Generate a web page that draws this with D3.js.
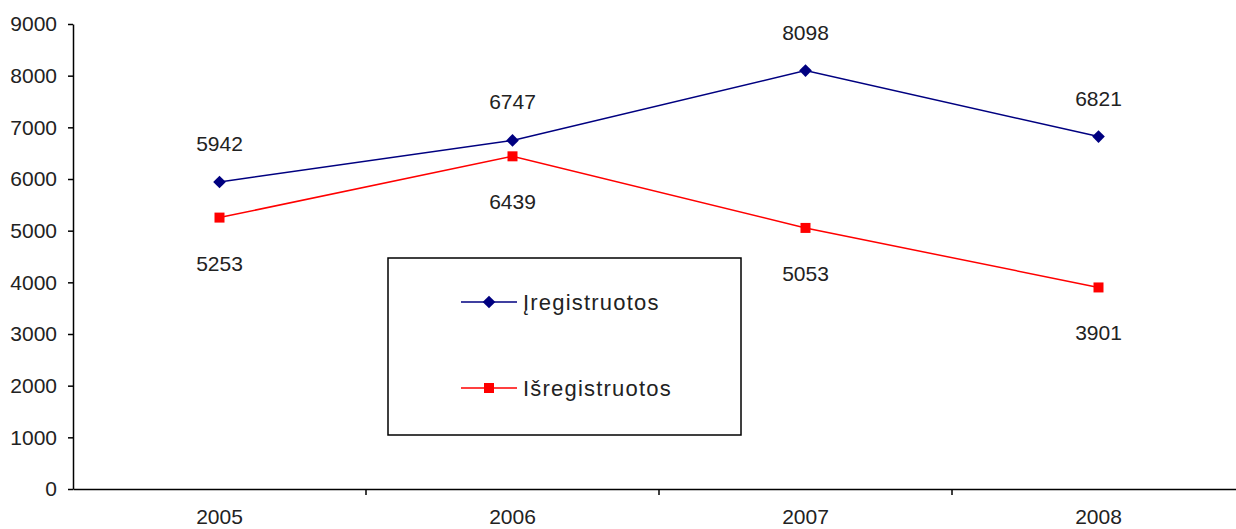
<!DOCTYPE html>
<html>
<head>
<meta charset="utf-8">
<script src="https://cdn.jsdelivr.net/npm/d3@7"></script>
<style>
  body { margin: 0; background: #fff; }
  svg text { font-family: "Liberation Sans", Arial, sans-serif; fill: #222; }
  .axis path, .axis line { stroke: #000; stroke-width: 1.5; }
  .axis text { font-size: 21px; }
</style>
</head>
<body>
<div id="chart"></div>
<script>
const years = ["2005", "2006", "2007", "2008"];
const registered = [5942, 6747, 8098, 6821];
const deregistered = [5253, 6439, 5053, 3901];
const yTicks = [0, 1000, 2000, 3000, 4000, 5000, 6000, 7000, 8000, 9000];
const seriesNames = ["Įregistruotos", "Išregistruotos"];

let w = 1236;
let h = 529;
let marginLeft = 73;
let marginTop = 24;
let marginBottom = 40;

let x = d3.scaleBand().domain(years).range([marginLeft, marginLeft + 4 * 293]);
let y = d3.scaleLinear().domain([0, 9000]).range([h - marginBottom, marginTop]);

let svg = d3.select("#chart").append("svg").attr("width", w).attr("height", h);

svg
  .append("g")
  .attr("class", "axis")
  .attr("transform", `translate(${marginLeft},0)`)
  .call(
    d3.axisLeft(y).tickValues(yTicks).tickFormat(d3.format("d")).tickSize(5).tickPadding(11).tickSizeOuter(0)
  );

let xAxis = svg
  .append("g")
  .attr("class", "axis")
  .attr("transform", `translate(0,${y(0)})`)
  .call(d3.axisBottom(x).tickSize(0).tickSizeOuter(0).tickPadding(20));

// ticks sit between categories
xAxis
  .selectAll(".sep")
  .data(years.slice(1))
  .enter()
  .append("line")
  .attr("x1", (d) => x(d))
  .attr("x2", (d) => x(d))
  .attr("y1", 0)
  .attr("y2", 6)
  .attr("stroke", "#000")
  .attr("stroke-width", 1.5);

// Excel style diamond: a square turned 45 degrees
const diamond = {
  draw(ctx, size) {
    let r = Math.sqrt(size / 2);
    ctx.moveTo(0, -r);
    ctx.lineTo(r, 0);
    ctx.lineTo(0, r);
    ctx.lineTo(-r, 0);
    ctx.closePath();
  },
};

const series = [
  { name: seriesNames[0], values: registered, color: "#000080", symbol: diamond, size: 80, dy: -31 },
  { name: seriesNames[1], values: deregistered, color: "#ff0000", symbol: d3.symbolSquare, size: 100, dy: 53 },
];

let cx = (i) => x(years[i]) + x.bandwidth() / 2;

series.forEach(function (s) {
  let line = d3
    .line()
    .x((d, i) => cx(i))
    .y((d) => y(d));

  svg
    .append("path")
    .datum(s.values)
    .attr("fill", "none")
    .attr("stroke", s.color)
    .attr("stroke-width", 1.5)
    .attr("d", line);

  svg
    .append("g")
    .selectAll("path")
    .data(s.values)
    .enter()
    .append("path")
    .attr("transform", (d, i) => `translate(${cx(i)},${y(d)})`)
    .attr("d", d3.symbol().type(s.symbol).size(s.size))
    .attr("fill", s.color);

  svg
    .append("g")
    .selectAll("text")
    .data(s.values)
    .enter()
    .append("text")
    .attr("x", (d, i) => cx(i))
    .attr("y", (d) => y(d) + s.dy)
    .attr("text-anchor", "middle")
    .attr("font-size", 21)
    .text((d) => d);
});

// legend
let legend = svg.append("g").attr("transform", "translate(388,258)");
legend
  .append("rect")
  .attr("width", 353)
  .attr("height", 177)
  .attr("fill", "#fff")
  .attr("stroke", "#000")
  .attr("stroke-width", 1.5);

let item = legend
  .selectAll(".item")
  .data(series)
  .enter()
  .append("g")
  .attr("transform", (d, i) => `translate(73,${44 + i * 86})`);

item
  .append("line")
  .attr("x1", 0)
  .attr("x2", 56)
  .attr("stroke", (d) => d.color)
  .attr("stroke-width", 1.5);

item
  .append("path")
  .attr("transform", "translate(28,0)")
  .attr("d", (d) => d3.symbol().type(d.symbol).size(d.size)())
  .attr("fill", (d) => d.color);

item
  .append("text")
  .attr("x", 62)
  .attr("y", 8)
  .attr("font-size", 22)
  .attr("letter-spacing", 1.2)
  .text((d) => d.name);
</script>
</body>
</html>
